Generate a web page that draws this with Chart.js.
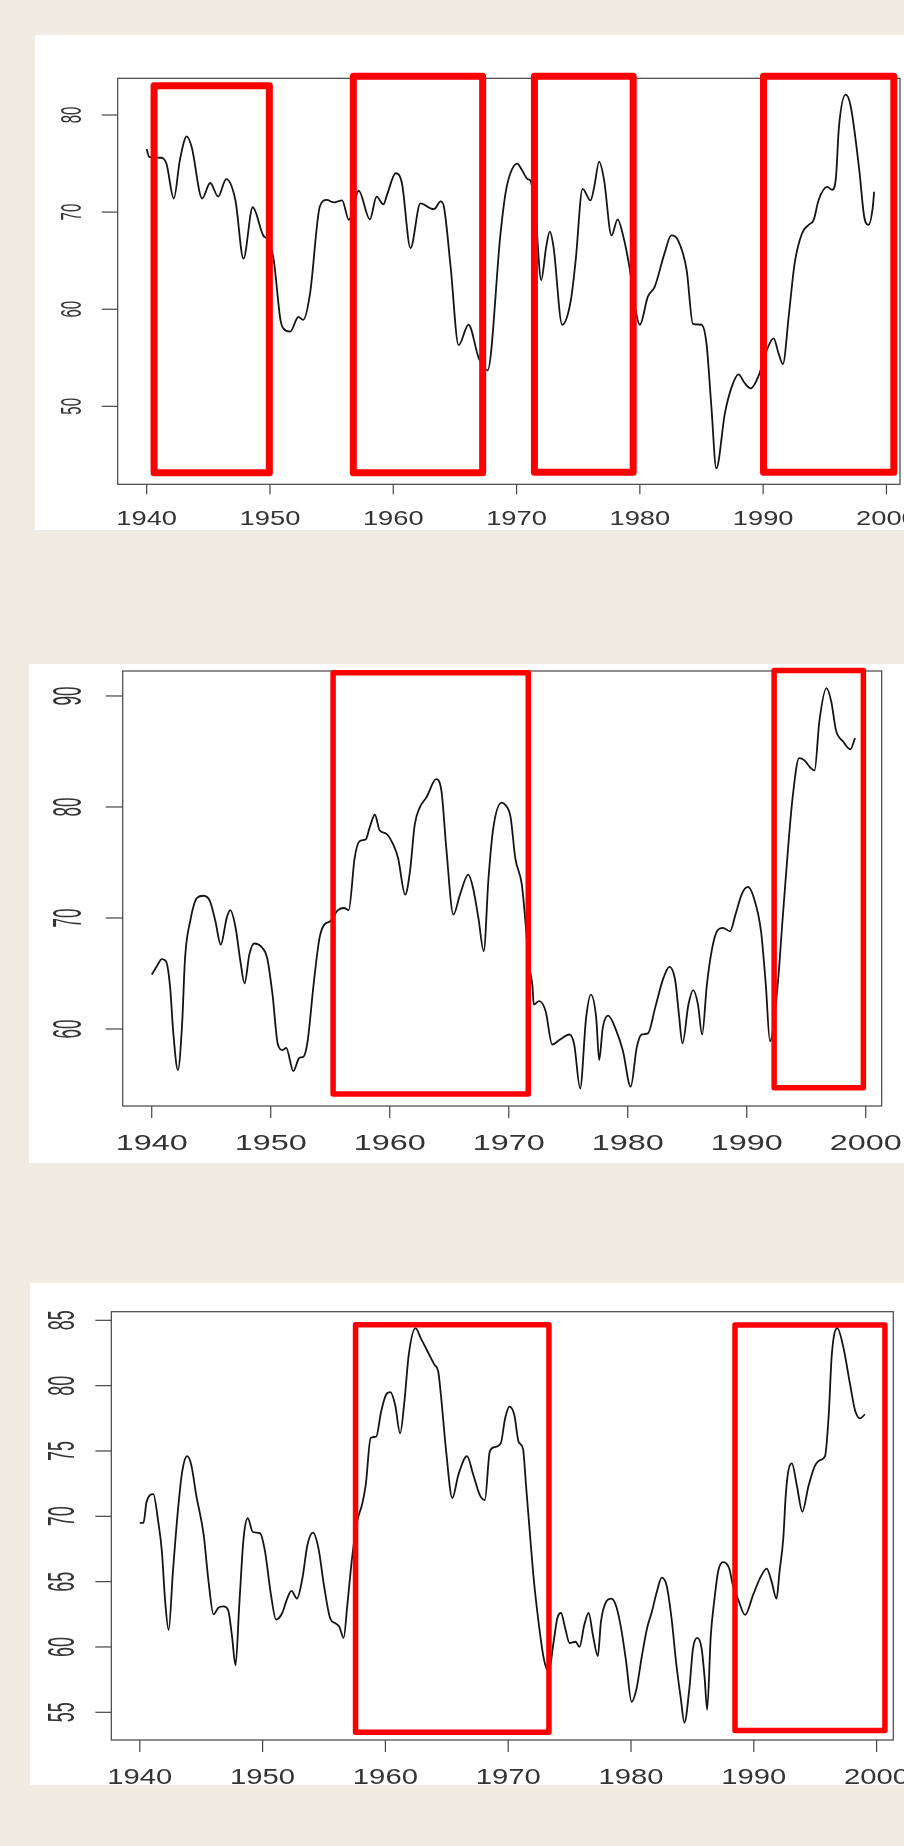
<!DOCTYPE html>
<html>
<head>
<meta charset="utf-8">
<script src="https://cdn.jsdelivr.net/npm/chart.js@4.4.1/dist/chart.umd.min.js"></script>
<style>
    html, body {
        margin: 0;
        padding: 0;
        background: #f0ece3;
    }
    body {
        position: relative;
        width: 904px;
        height: 1846px;
        overflow: hidden;
    }
    .card {
        position: absolute;
        background: #ffffff;
    }
</style>
</head>
<body>
<div class="card" id="card1" style="left:35px; top:35px; width:869px; height:495px;"><canvas id="chart1"></canvas></div>
<div class="card" id="card2" style="left:29px; top:664px; width:875px; height:499px;"><canvas id="chart2"></canvas></div>
<div class="card" id="card3" style="left:30px; top:1283px; width:874px; height:502px;"><canvas id="chart3"></canvas></div>

<script>
// tick labels
const yearTicks = [1940, 1950, 1960, 1970, 1980, 1990, 2000];
const topTicks = [50, 60, 70, 80];
const middleTicks = [60, 70, 80, 90];
const bottomTicks = [55, 60, 65, 70, 75, 80, 85];

// series: [year, value]
const topSeries = [
    [1940.0, 76.5], [1940.2, 75.7], [1941.1, 75.6], [1941.6, 75.0], [1942.2, 71.4], [1942.7, 75.4],
    [1943.25, 77.8], [1943.65, 76.7], [1944.5, 71.4], [1945.15, 73.0], [1945.8, 71.6], [1946.45, 73.4],
    [1947.2, 71.2], [1947.85, 65.2], [1948.6, 70.5], [1949.5, 67.5], [1949.75, 67.3], [1950.3, 65.1],
    [1950.85, 58.9], [1951.1, 58.0], [1951.65, 57.7], [1952.3, 59.2], [1952.7, 58.9], [1953.25, 61.6],
    [1954.05, 70.6], [1954.6, 71.25], [1955.2, 71.0], [1955.85, 71.2], [1956.4, 69.2], [1957.2, 72.2],
    [1958.1, 69.25], [1958.65, 71.6], [1959.2, 70.8], [1959.5, 71.8], [1960.2, 74.0], [1960.7, 73.0],
    [1961.4, 66.3], [1962.2, 70.9], [1963.0, 70.4], [1963.3, 70.3], [1963.85, 71.1], [1964.1, 70.6],
    [1964.65, 64.4], [1965.3, 56.3], [1966.1, 58.4], [1966.95, 54.9], [1967.65, 53.7], [1968.7, 67.8],
    [1969.1, 71.9], [1969.5, 74.0], [1970.05, 75.0], [1970.45, 74.3], [1970.9, 73.4], [1971.1, 73.3],
    [1971.5, 70.5], [1972.0, 63.0], [1972.4, 66.4], [1972.7, 68.0], [1973.0, 66.4], [1973.7, 58.4],
    [1974.4, 60.9], [1974.8, 65.1], [1975.35, 72.4], [1976.0, 71.2], [1976.3, 72.6], [1976.7, 75.2],
    [1977.1, 73.3], [1977.7, 67.6], [1978.2, 69.25], [1978.6, 67.8], [1979.15, 64.4], [1979.7, 59.6],
    [1980.0, 58.4], [1980.65, 61.3], [1981.2, 62.3], [1982.0, 65.75], [1982.55, 67.6], [1983.1, 67.1],
    [1983.8, 64.0], [1984.3, 58.5], [1985.0, 58.4], [1985.4, 56.5], [1985.8, 50.0], [1986.2, 43.6],
    [1986.9, 49.3], [1987.45, 52.0], [1988.0, 53.3], [1988.5, 52.4], [1989.0, 51.85], [1989.6, 53.05],
    [1990.3, 55.8], [1990.85, 57.0], [1991.25, 55.45], [1991.6, 54.35], [1992.1, 59.6], [1992.55, 64.7],
    [1993.15, 67.8], [1993.7, 68.7], [1994.1, 69.2], [1994.5, 71.25], [1995.2, 72.6], [1995.6, 72.3],
    [1995.9, 73.5], [1996.15, 78.8], [1996.7, 82.1], [1997.1, 80.9], [1997.8, 74.3], [1998.2, 69.5],
    [1998.55, 68.7], [1998.9, 70.6], [1999.0, 72.1],
];

const middleSeries = [
    [1940.0, 64.9], [1940.4, 65.6], [1940.85, 66.3], [1941.2, 66.1], [1941.55, 63.7], [1941.8, 59.8],
    [1942.2, 56.3], [1942.55, 60.4], [1942.8, 66.4], [1943.25, 69.8], [1943.8, 71.8], [1944.35, 72.0],
    [1944.9, 71.5], [1945.35, 69.7], [1945.8, 67.6], [1946.3, 70.0], [1946.6, 70.7], [1947.05, 69.1],
    [1947.45, 66.1], [1947.8, 64.1], [1948.2, 66.7], [1948.6, 67.7], [1949.3, 67.3], [1949.7, 66.4],
    [1950.15, 63.1], [1950.6, 58.6], [1951.0, 58.1], [1951.3, 58.3], [1951.9, 56.2], [1952.4, 57.4],
    [1952.75, 57.5], [1953.1, 58.9], [1953.6, 64.0], [1954.1, 68.2], [1954.5, 69.4], [1955.0, 69.7],
    [1955.65, 70.7], [1956.15, 70.9], [1956.55, 70.7], [1957.05, 75.4], [1957.45, 76.9], [1958.0, 77.1],
    [1958.3, 78.1], [1958.75, 79.3], [1959.15, 77.9], [1959.7, 77.6], [1960.3, 76.6], [1960.7, 75.4],
    [1961.3, 72.1], [1961.7, 74.2], [1962.1, 78.4], [1962.5, 79.9], [1963.1, 80.9], [1963.9, 82.5],
    [1964.35, 81.4], [1964.75, 76.3], [1965.35, 70.3], [1965.9, 72.1], [1966.6, 73.9], [1967.0, 72.7],
    [1967.45, 70.0], [1967.9, 67.0], [1968.3, 73.6], [1968.7, 78.1], [1969.4, 80.4], [1969.7, 80.2],
    [1970.15, 79.1], [1970.55, 75.4], [1971.1, 73.0], [1971.4, 69.7], [1971.7, 65.8], [1972.0, 63.8],
    [1972.1, 62.2], [1972.55, 62.5], [1973.1, 61.6], [1973.65, 58.6], [1974.25, 59.0], [1975.1, 59.5],
    [1975.5, 58.6], [1976.0, 54.65], [1976.5, 61.0], [1976.9, 63.1], [1977.35, 61.0], [1977.6, 57.2],
    [1977.9, 60.1], [1978.35, 61.2], [1979.05, 59.8], [1979.6, 58.0], [1980.25, 54.8], [1980.75, 58.3],
    [1981.15, 59.5], [1981.7, 59.6], [1982.3, 61.9], [1983.0, 64.6], [1983.5, 65.6], [1984.0, 64.3],
    [1984.3, 61.3], [1984.6, 58.7], [1985.1, 62.2], [1985.5, 63.5], [1985.9, 62.2], [1986.25, 59.5],
    [1986.65, 64.0], [1987.1, 67.3], [1987.5, 68.8], [1988.0, 69.1], [1988.6, 68.8], [1989.05, 70.3],
    [1989.6, 72.2], [1990.1, 72.8], [1990.6, 71.8], [1991.2, 68.8], [1991.6, 64.0], [1991.95, 58.9],
    [1992.6, 64.0], [1993.0, 69.7], [1993.45, 76.0], [1993.85, 80.8], [1994.4, 84.4], [1994.85, 84.2],
    [1995.3, 83.6], [1995.7, 83.3], [1996.1, 87.7], [1996.7, 90.7], [1997.1, 89.5], [1997.5, 86.9],
    [1998.1, 85.9], [1998.7, 85.2], [1999.1, 86.2],
];

const bottomSeries = [
    [1940.0, 69.5], [1940.3, 69.5], [1940.55, 71.1], [1941.1, 71.7], [1941.5, 69.6], [1941.8, 67.3],
    [1942.05, 63.7], [1942.35, 61.3], [1942.7, 65.8], [1943.1, 70.4], [1943.45, 73.4], [1943.85, 74.6],
    [1944.2, 73.9], [1944.6, 71.6], [1945.2, 68.6], [1945.6, 65.0], [1946.0, 62.5], [1946.4, 63.0],
    [1946.8, 63.1], [1947.2, 62.8], [1947.5, 60.9], [1947.8, 58.6], [1948.1, 63.2], [1948.45, 68.3],
    [1948.8, 69.85], [1949.2, 68.8], [1949.8, 68.7], [1950.2, 67.3], [1950.65, 64.2], [1951.1, 62.1],
    [1951.6, 62.6], [1952.0, 63.7], [1952.35, 64.3], [1952.8, 63.7], [1953.25, 65.3], [1953.65, 67.8],
    [1954.1, 68.75], [1954.55, 67.55], [1955.0, 64.7], [1955.5, 62.2], [1955.95, 61.8], [1956.25, 61.55],
    [1956.6, 60.7], [1956.9, 63.2], [1957.25, 66.5], [1957.7, 69.6], [1958.1, 70.9], [1958.4, 72.4],
    [1958.8, 76.0], [1959.25, 76.1], [1959.65, 78.0], [1960.05, 79.3], [1960.4, 79.5], [1960.8, 78.5],
    [1961.2, 76.35], [1961.55, 78.8], [1961.9, 82.35], [1962.45, 84.4], [1962.9, 83.6], [1963.5, 82.5],
    [1964.0, 81.6], [1964.3, 81.1], [1964.55, 79.0], [1964.95, 74.95], [1965.45, 71.4], [1965.95, 73.2],
    [1966.65, 74.6], [1967.15, 73.2], [1967.7, 71.6], [1968.1, 71.25], [1968.5, 74.95], [1968.9, 75.3],
    [1969.4, 75.6], [1969.75, 77.5], [1970.1, 78.4], [1970.5, 77.75], [1970.85, 75.7], [1971.2, 75.2],
    [1971.45, 72.4], [1971.8, 68.3], [1972.1, 65.0], [1972.5, 61.7], [1972.9, 59.1], [1973.3, 58.1],
    [1973.7, 60.4], [1974.0, 62.2], [1974.3, 62.6], [1974.65, 61.4], [1975.0, 60.3], [1975.5, 60.4],
    [1975.8, 60.0], [1976.2, 61.7], [1976.55, 62.6], [1976.9, 60.9], [1977.3, 59.3], [1977.55, 61.9],
    [1978.0, 63.5], [1978.4, 63.7], [1978.8, 63.1], [1979.2, 61.4], [1979.6, 58.9], [1980.05, 55.8],
    [1980.45, 56.8], [1980.85, 59.1], [1981.3, 61.4], [1981.7, 62.7], [1982.1, 64.2], [1982.5, 65.3],
    [1982.9, 64.7], [1983.3, 62.2], [1983.7, 58.6], [1984.05, 56.1], [1984.35, 54.2], [1984.75, 56.8],
    [1985.05, 59.9], [1985.4, 60.7], [1985.75, 59.9], [1986.0, 57.6], [1986.2, 55.2], [1986.5, 60.9],
    [1986.8, 63.7], [1987.1, 65.8], [1987.5, 66.5], [1988.0, 66.0], [1988.3, 64.7], [1988.7, 63.7],
    [1989.3, 62.45], [1989.95, 64.0], [1990.5, 65.25], [1991.05, 66.0], [1991.45, 65.0], [1991.85, 63.7],
    [1992.1, 65.8], [1992.4, 68.3], [1992.6, 71.6], [1992.8, 73.4], [1993.1, 74.05], [1993.5, 72.4],
    [1993.95, 70.35], [1994.45, 72.3], [1994.95, 73.8], [1995.4, 74.3], [1995.8, 74.6], [1996.1, 77.75],
    [1996.35, 82.35], [1996.8, 84.4], [1997.3, 82.9], [1997.85, 80.05], [1998.25, 78.1], [1998.65, 77.5],
    [1999.05, 77.8],
];

// highlighted periods: [fromYear, toYear, low, high]
const topBoxes = [
    [1940.6, 1949.95, 43.16, 83.0],
    [1956.76, 1967.25, 43.16, 84.0],
    [1971.45, 1979.46, 43.2, 84.0],
    [1990.03, 2000.6, 43.2, 84.0],
];
const middleBoxes = [
    [1955.24, 1971.64, 54.15, 92.1],
    [1992.3, 1999.8, 54.7, 92.3],
];
const bottomBoxes = [
    [1957.57, 1973.32, 53.47, 84.67],
    [1988.47, 2000.68, 53.6, 84.64],
];

const FONT = '"Liberation Sans", Arial, Helvetica, sans-serif';

// R-style box, ticks and labels, then the red highlight rectangles
const rStylePlugin = {
    id: 'rStyle',
    afterDatasetsDraw(chart, args, opts) {
        const { ctx, chartArea: area, scales: { x, y } } = chart;

        ctx.save();
        ctx.strokeStyle = '#444';
        ctx.lineWidth = 1.2;
        ctx.strokeRect(area.left, area.top, area.right - area.left, area.bottom - area.top);

        ctx.fillStyle = '#333';
        ctx.textAlign = 'center';
        ctx.textBaseline = 'alphabetic';

        ctx.font = `${opts.xFont}px ${FONT}`;
        opts.xTicks.forEach((value) => {
            const px = x.getPixelForValue(value);
            ctx.beginPath();
            ctx.moveTo(px, area.bottom);
            ctx.lineTo(px, area.bottom + opts.xTickLength);
            ctx.stroke();

            ctx.save();
            ctx.translate(px, area.bottom + opts.xLabelGap);
            ctx.scale(opts.xStretch, 1);
            ctx.fillText(String(value), 0, opts.xFont * 0.358);
            ctx.restore();
        });

        ctx.font = `${opts.yFont}px ${FONT}`;
        opts.yTicks.forEach((value) => {
            const py = y.getPixelForValue(value);
            ctx.beginPath();
            ctx.moveTo(area.left, py);
            ctx.lineTo(area.left - opts.yTickLength, py);
            ctx.stroke();

            ctx.save();
            ctx.translate(area.left - opts.yLabelGap, py);
            ctx.rotate(-Math.PI / 2);
            ctx.scale(1, opts.yStretch);
            ctx.fillText(String(value), 0, opts.yFont * 0.358);
            ctx.restore();
        });

        ctx.strokeStyle = '#ff0000';
        ctx.lineWidth = opts.boxWidth;
        ctx.lineJoin = 'round';
        opts.boxes.forEach(([from, to, low, high]) => {
            const left = x.getPixelForValue(from);
            const right = x.getPixelForValue(to);
            const top = y.getPixelForValue(high);
            const bottom = y.getPixelForValue(low);
            ctx.strokeRect(left, top, right - left, bottom - top);
        });
        ctx.restore();
    },
};

function createPanel(canvas, points, bounds, padding, axis) {
    return new Chart(canvas, {
        type: 'line',
        data: {
            datasets: [
                {
                    data: points.map(([year, value]) => ({ x: year, y: value })),
                    borderColor: '#141414',
                    borderWidth: 1.8,
                    pointRadius: 0,
                    cubicInterpolationMode: 'monotone',
                    fill: false,
                },
            ],
        },
        options: {
            responsive: true,
            maintainAspectRatio: false,
            animation: false,
            events: [],
            layout: { padding },
            plugins: {
                legend: { display: false },
                tooltip: { enabled: false },
                rStyle: axis,
            },
            scales: {
                x: { type: 'linear', display: false, min: bounds.xMin, max: bounds.xMax },
                y: { type: 'linear', display: false, min: bounds.yMin, max: bounds.yMax },
            },
        },
        plugins: [rStylePlugin],
    });
}

createPanel(
    document.getElementById('chart1'),
    topSeries,
    { xMin: 1937.65, xMax: 2001.1, yMin: 41.97, yMax: 83.78 },
    { left: 82.7, top: 43.3, right: 4, bottom: 45.7 },
    {
        xTicks: yearTicks, yTicks: topTicks, boxes: topBoxes, boxWidth: 7,
        xFont: 21, xStretch: 1.3, xTickLength: 10, xLabelGap: 33,
        yFont: 15, yStretch: 2.0, yTickLength: 16, yLabelGap: 47,
    }
);

createPanel(
    document.getElementById('chart2'),
    middleSeries,
    { xMin: 1937.56, xMax: 2001.34, yMin: 53.06, yMax: 92.25 },
    { left: 93.7, top: 7, right: 22.3, bottom: 57 },
    {
        xTicks: yearTicks, yTicks: middleTicks, boxes: middleBoxes, boxWidth: 5.5,
        xFont: 21.6, xStretch: 1.5, xTickLength: 12, xLabelGap: 36,
        yFont: 17, yStretch: 2.35, yTickLength: 17, yLabelGap: 56,
    }
);

createPanel(
    document.getElementById('chart3'),
    bottomSeries,
    { xMin: 1937.68, xMax: 2001.36, yMin: 52.88, yMax: 85.66 },
    { left: 81.3, top: 28.7, right: 10.7, bottom: 45 },
    {
        xTicks: yearTicks, yTicks: bottomTicks, boxes: bottomBoxes, boxWidth: 5.5,
        xFont: 22, xStretch: 1.33, xTickLength: 12, xLabelGap: 36,
        yFont: 18, yStretch: 2.1, yTickLength: 16, yLabelGap: 51,
    }
);
</script>
</body>
</html>
